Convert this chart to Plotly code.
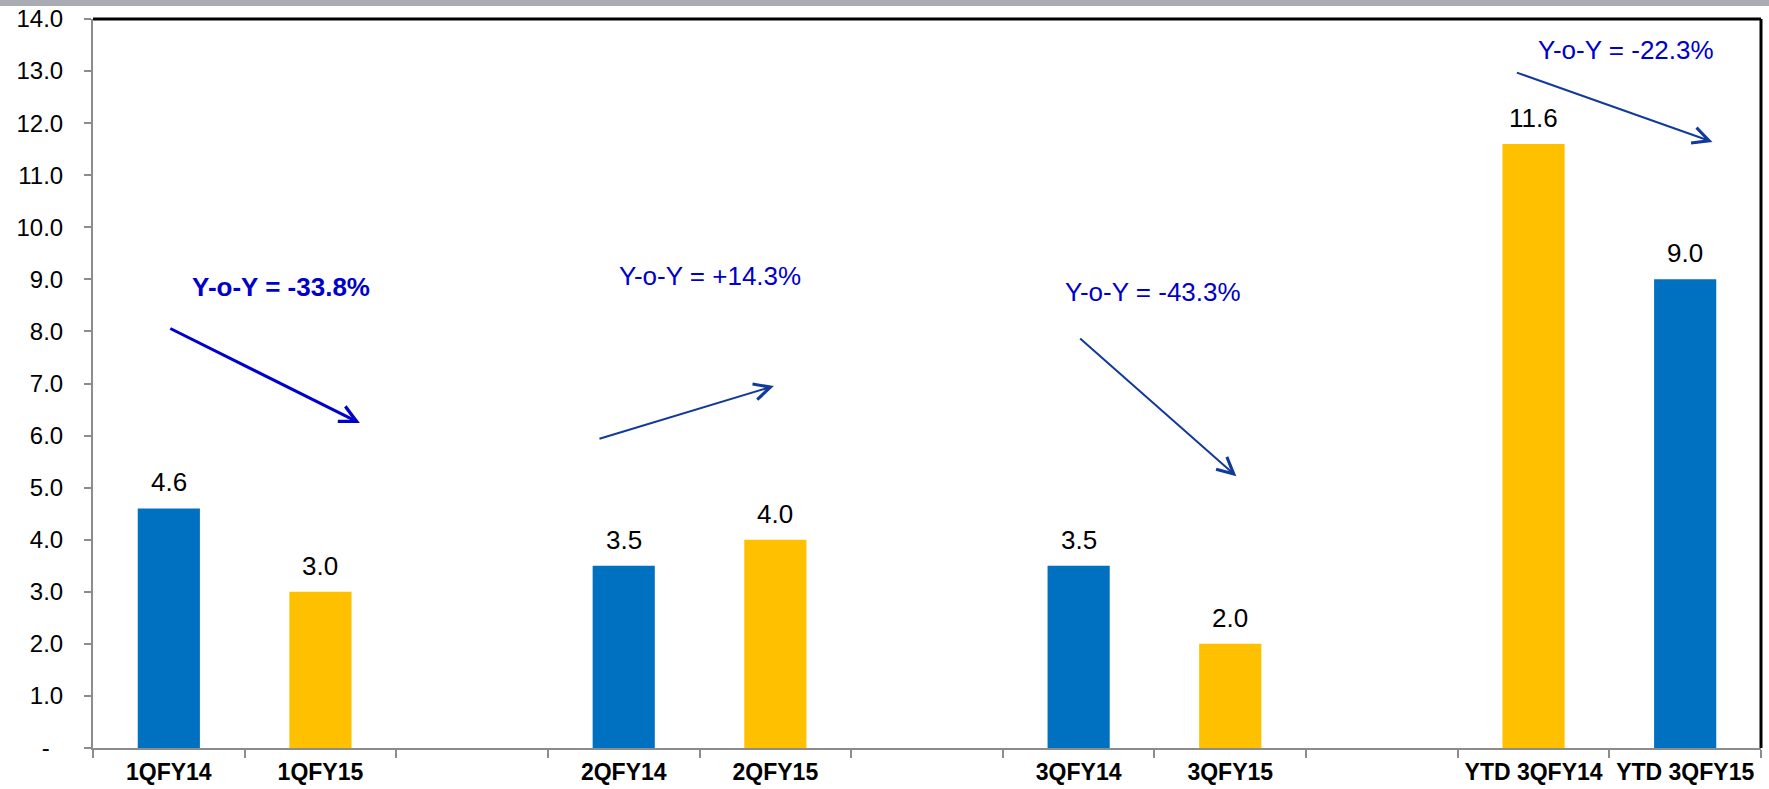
import plotly.graph_objects as go

# ---- data -------------------------------------------------------------
periods = ["1QFY14", "1QFY15", "2QFY14", "2QFY15", "3QFY14", "3QFY15",
           "YTD 3QFY14", "YTD 3QFY15"]
values = [4.6, 3.0, 3.5, 4.0, 3.5, 2.0, 11.6, 9.0]
bar_colors = ["#0070C0", "#FFC000", "#0070C0", "#FFC000", "#0070C0", "#FFC000",
              "#FFC000", "#0070C0"]

# category slots on the x axis (blank spacer slots separate the groups)
slots = ["1QFY14", "1QFY15", " ", "2QFY14", "2QFY15", "  ",
         "3QFY14", "3QFY15", "   ", "YTD 3QFY14", "YTD 3QFY15"]

y_tickvals = list(range(0, 15))
y_ticktext = ["-\u00a0\u00a0"] + [f"{v:.1f}" for v in y_tickvals[1:]]

# year-on-year callouts: text, text position, arrow tail, arrow head
yoy_text = ["Y-o-Y = -33.8%", "Y-o-Y = +14.3%", "Y-o-Y = -43.3%", "Y-o-Y = -22.3%"]
yoy_text_xy = [(0.74, 8.85), (3.57, 9.06), (6.49, 8.76), (9.61, 13.41)]
yoy_tail_xy = [(0.00, 8.07), (2.83, 5.93), (6.00, 7.89), (8.88, 12.98)]
yoy_head_xy = [(1.26, 6.24), (3.99, 6.95), (7.04, 5.22), (10.18, 11.64)]

# ---- layout constants ---------------------------------------------------
W, H = 1769, 789
ML, MR, MT, MB = 93, 8, 19, 41
PW, PH = W - ML - MR, H - MT - MB
FONT = "Liberation Sans, Arial, sans-serif"

fig = go.Figure()
fig.add_trace(go.Bar(
    x=periods, y=values, width=0.41,
    marker=dict(color=bar_colors, line=dict(width=0)),
    hoverinfo="x+y", showlegend=False,
))

# value labels above bars
for p, v in zip(periods, values):
    fig.add_annotation(x=slots.index(p), y=v, text=f"{v:.1f}", showarrow=False,
                       yanchor="middle", yshift=26,
                       font=dict(family=FONT, size=26, color="black"))

# year-on-year callouts
for i, (t, (tx, ty), (ax, ay), (hx, hy)) in enumerate(
        zip(yoy_text, yoy_text_xy, yoy_tail_xy, yoy_head_xy)):
    first = i == 0
    fig.add_annotation(x=tx, y=ty, text=f"<b>{t}</b>" if first else t,
                       showarrow=False, xanchor="center", yanchor="middle",
                       font=dict(family=FONT, size=26, color="#0000CC"))
    fig.add_annotation(x=hx, y=hy, ax=ax, ay=ay, axref="x", ayref="y",
                       text="", showarrow=True, arrowhead=5,
                       arrowwidth=3 if first else 2,
                       arrowsize=1.1 if first else 1.6,
                       arrowcolor="#0000CC" if first else "#123A9A",
                       standoff=0, startstandoff=0)

# grey band across the top of the page
fig.add_shape(type="rect", xref="paper", yref="paper",
              x0=-ML / PW, x1=(W - ML) / PW,
              y0=(PH + MT - 6) / PH, y1=(PH + MT) / PH,
              fillcolor="#A9ACB3", line=dict(width=0), layer="above")
# black frame on top and right of the plot area
fig.add_shape(type="line", xref="paper", yref="paper", x0=0, x1=1, y0=1, y1=1,
              line=dict(color="black", width=3), layer="above")
fig.add_shape(type="line", xref="paper", yref="paper", x0=1, x1=1, y0=0, y1=1,
              line=dict(color="black", width=3), layer="above")

fig.update_xaxes(
    type="category", categoryorder="array", categoryarray=slots,
    range=[-0.5, len(slots) - 0.5], tickson="boundaries",
    ticks="outside", ticklen=8, tickwidth=2, tickcolor="#8C8C8C",
    showline=True, linecolor="#8C8C8C", linewidth=2, showgrid=False,
    zeroline=False, automargin=False, fixedrange=True, ticklabelstandoff=2,
    tickfont=dict(family=FONT, size=23, color="black", weight="bold"),
)
fig.update_yaxes(
    range=[0, 14], tickvals=y_tickvals, ticktext=y_ticktext,
    ticks="outside", ticklen=7, tickwidth=2, tickcolor="#8C8C8C",
    showline=True, linecolor="#8C8C8C", linewidth=2, showgrid=False,
    zeroline=False, automargin=False, fixedrange=True, ticklabelstandoff=16,
    tickfont=dict(family=FONT, size=24, color="black"),
)
fig.update_layout(
    width=W, height=H,
    margin=dict(l=ML, r=MR, t=MT, b=MB, pad=0),
    paper_bgcolor="white", plot_bgcolor="white",
    font=dict(family=FONT),
    showlegend=False,
)

fig.write_html("out.html")
